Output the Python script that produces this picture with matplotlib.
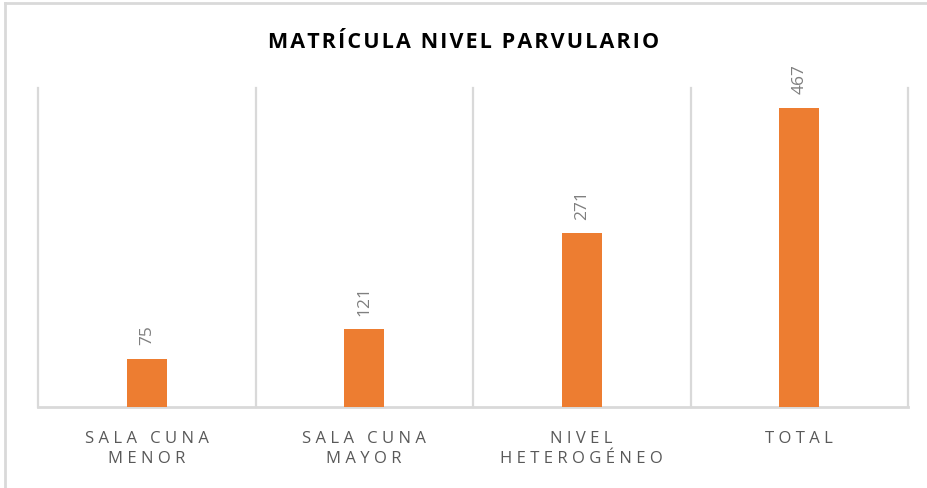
import matplotlib
matplotlib.use("Agg")
from matplotlib import pyplot as plt
from matplotlib.lines import Line2D

categories = ["SALA CUNA\nMENOR", "SALA CUNA\nMAYOR", "NIVEL\nHETEROGÉNEO", "TOTAL"]
values = [75, 121, 271, 467]
title = "MATRÍCULA NIVEL PARVULARIO"


def spaced(text, sep=" ", word_sep="   "):
    # mimic letter spacing of the original
    lines = []
    for line in text.split("\n"):
        words = [sep.join(w) for w in line.split(" ")]
        lines.append(word_sep.join(words))
    return "\n".join(lines)


plt.rcParams['font.family'] = ['Open Sans', 'DejaVu Sans']

fig = plt.figure(figsize=(9.27, 4.88), dpi=100)
ax = fig.add_axes([38 / 927, 81 / 488, 870 / 927, 319 / 488])

x = list(range(len(values)))
ax.bar(x, values, width=0.185, color="#ED7D31", zorder=3)

for xi, v in zip(x, values):
    ax.annotate(str(v), (xi, v), xytext=(0, 10), textcoords="offset points",
                rotation=90, ha="center", va="bottom", fontsize=12.5, color="#7F7F7F")

ax.set_xlim(-0.5, len(values) - 0.5)
ax.set_ylim(0, 498)
ax.set_yticks([])
ax.set_xticks(x)
ax.set_xticklabels([spaced(c) for c in categories], fontsize=12, color="#595959",
                   linespacing=1.35)
ax.tick_params(axis="x", length=0, pad=17)

for b in [i - 0.5 for i in range(len(values) + 1)]:
    ax.axvline(b, color="#D9D9D9", linewidth=1.6, zorder=1, clip_on=False)

for s in ["top", "left", "right"]:
    ax.spines[s].set_visible(False)
ax.spines["bottom"].set_color("#D9D9D9")
ax.spines["bottom"].set_linewidth(2)

fig.text(0.5, 1 - 42 / 488, spaced(title, "\u200a", "\u200a \u200a"), ha="center", va="center",
         fontsize=15.5, fontweight="bold", color="#000000")

# chart frame edges
fig.add_artist(Line2D([5 / 927, 1], [1 - 3 / 488, 1 - 3 / 488], color="#D9D9D9", linewidth=2))
fig.add_artist(Line2D([5 / 927, 5 / 927], [0, 1 - 3 / 488], color="#D9D9D9", linewidth=2))

plt.savefig("out.png", dpi=100)
